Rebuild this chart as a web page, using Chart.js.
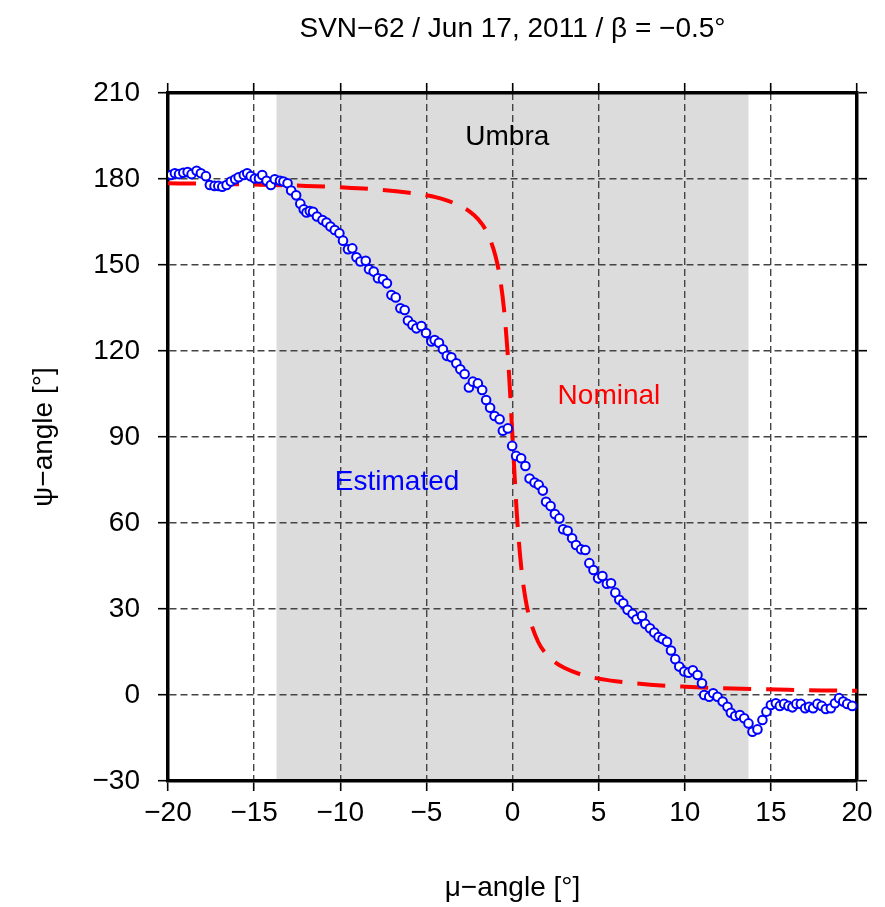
<!DOCTYPE html>
<html>
<head>
<meta charset="utf-8">
<script src="https://cdn.jsdelivr.net/npm/chart.js@4/dist/chart.umd.min.js"></script>
<style>
  html, body { margin: 0; padding: 0; background: #fff; }
  #wrap { width: 885px; height: 907px; }
</style>
</head>
<body>
<div id="wrap"><canvas id="graphique_yaw"></canvas></div>
<script>
// ESTIMATED YAW (mu, psi)
const estMu = [
  -19.83, -19.60, -19.36, -19.11, -18.86, -18.63, -18.34, -18.09, -17.80, -17.57,
  -17.30, -17.08, -16.85, -16.60, -16.35, -16.10, -15.90, -15.60, -15.40, -15.20,
  -14.96, -14.72, -14.53, -14.28, -14.03, -13.80, -13.50, -13.30, -13.06, -12.85,
  -12.56, -12.32, -12.12, -11.96, -11.77, -11.58, -11.35, -11.03, -10.80, -10.57,
  -10.32, -10.05, -9.84, -9.55, -9.30, -9.06, -8.83, -8.52, -8.33, -8.06,
  -7.81, -7.52, -7.29, -7.03, -6.78, -6.51, -6.26, -6.07, -5.81, -5.58,
  -5.29, -5.02, -4.71, -4.52, -4.27, -4.04, -3.81, -3.55, -3.26, -3.03,
  -2.78, -2.53, -2.30, -2.01, -1.76, -1.53, -1.30, -1.04, -0.75, -0.56,
  -0.27, -0.02, 0.21, 0.50, 0.75, 0.99, 1.28, 1.52, 1.76, 1.95,
  2.21, 2.46, 2.72, 2.94, 3.20, 3.46, 3.69, 3.98, 4.23, 4.46,
  4.70, 4.97, 5.22, 5.48, 5.72, 5.97, 6.20, 6.43, 6.68, 6.97,
  7.20, 7.52, 7.71, 7.98, 8.23, 8.48, 8.71, 8.97, 9.20, 9.45,
  9.68, 9.97, 10.22, 10.47, 10.74, 11.00, 11.13, 11.42, 11.65, 11.90,
  12.20, 12.48, 12.68, 12.93, 13.20, 13.45, 13.70, 13.93, 14.22, 14.51,
  14.74, 15.00, 15.29, 15.52, 15.77, 16.02, 16.25, 16.48, 16.74, 16.99,
  17.22, 17.45, 17.70, 17.95, 18.19, 18.48, 18.72, 18.96, 19.20, 19.43,
  19.72
];
const estPsi = [
  181.4, 182.0, 181.7, 182.2, 182.4, 181.7, 182.9, 182.0, 181.0, 177.9,
  177.6, 177.6, 177.3, 177.9, 179.1, 179.9, 180.6, 181.4, 182.0, 181.0,
  180.2, 180.2, 181.4, 179.4, 177.9, 179.9, 179.4, 179.1, 178.5, 176.0,
  174.3, 171.4, 169.4, 168.3, 168.8, 168.6, 166.9, 165.7, 164.8, 163.4,
  162.2, 161.1, 158.5, 155.5, 155.8, 152.7, 151.2, 151.5, 148.5, 147.7,
  145.4, 145.0, 143.6, 139.5, 138.7, 134.9, 134.3, 130.6, 129.1, 127.9,
  128.7, 126.3, 123.3, 123.8, 122.9, 120.6, 118.3, 117.8, 115.7, 113.6,
  112.0, 107.3, 109.3, 108.7, 106.4, 102.9, 100.2, 97.3, 96.2, 92.2,
  93.0, 86.9, 83.4, 82.6, 79.9, 75.5, 74.1, 73.3, 71.3, 67.4,
  65.9, 63.1, 61.6, 57.8, 57.3, 54.7, 52.3, 50.8, 50.6, 46.0,
  43.6, 40.7, 41.5, 38.8, 39.0, 35.7, 33.2, 32.0, 29.7, 28.3,
  26.4, 27.6, 24.8, 23.3, 21.8, 20.2, 19.5, 18.6, 15.5, 12.5,
  9.9, 8.2, 7.8, 8.6, 7.0, 4.1, 0.0, -0.6, 0.6, -0.6,
  -2.3, -4.1, -6.2, -7.3, -7.0, -8.1, -9.9, -12.8, -12.0, -8.7,
  -5.8, -3.5, -2.9, -3.8, -3.1, -3.8, -4.3, -3.1, -3.1, -4.6,
  -4.1, -4.6, -3.1, -3.8, -4.9, -4.6, -2.9, -1.1, -2.3, -3.1,
  -3.8
];

// NOMINAL YAW (mu, psi)
const nomMu = [
  -20, -18, -16, -14, -12, -10, -8, -6, -5, -4, -3, -2.5, -2, -1.5, -1, -0.75, -0.5, -0.25,
  0, 0.25, 0.5, 0.75, 1, 1.5, 2, 2.5, 3, 4, 5, 6, 8, 10, 12, 14, 16, 18, 20
];
const nomPsi = [
  178.5, 178.4, 178.2, 177.9, 177.6, 177.1, 176.4, 175.2, 174.3, 172.9, 170.5, 168.7, 166.0, 161.6, 153.4, 146.3, 135.0, 116.6,
  90.0, 63.4, 45.0, 33.7, 26.6, 18.4, 14.0, 11.3, 9.5, 7.1, 5.7, 4.8, 3.6, 2.9, 2.4, 2.1, 1.8, 1.6, 1.5
];

// UMBRA LIMITS
const umbraLimits = [-13.7, 13.7];

// AXES
const xTicks = [-20, -15, -10, -5, 0, 5, 10, 15, 20];
const yTicks = [-30, 0, 30, 60, 90, 120, 150, 180, 210];

// TEXT LABELS IN THE PLOT
const noteTexts = ['Umbra', 'Nominal', 'Estimated'];
const noteMu = [-0.3, 5.6, -6.7];
const notePsi = [194.6, 104.3, 74.3];
const noteColors = ['#000000', '#ff0000', '#0000ff'];

const FONT = "'Liberation Sans', Arial, Helvetica, sans-serif";
const FS = 28;

function minusLabel(v) {
  return v < 0 ? '\u2212' + Math.abs(v) : String(v);
}

function toPoints(xs, ys) {
  return xs.map((x, i) => ({ x: x, y: ys[i] }));
}

// FOND GRIS DE L'OMBRE (sous la grille)
const umbraPlugin = {
  id: 'umbra',
  beforeDraw(chart) {
    const { ctx, chartArea, scales } = chart;
    const x1 = scales.x.getPixelForValue(umbraLimits[0]);
    const x2 = scales.x.getPixelForValue(umbraLimits[1]);
    ctx.save();
    ctx.fillStyle = '#dcdcdc';
    ctx.fillRect(x1, chartArea.top, x2 - x1, chartArea.bottom - chartArea.top);
    ctx.restore();
  }
};

// TEXTES DANS LE GRAPHIQUE
const notesPlugin = {
  id: 'notes',
  afterDatasetsDraw(chart) {
    const { ctx, scales } = chart;
    ctx.save();
    ctx.font = FS + 'px ' + FONT;
    ctx.textAlign = 'center';
    ctx.textBaseline = 'middle';
    noteTexts.forEach((t, i) => {
      ctx.fillStyle = noteColors[i];
      ctx.fillText(t, scales.x.getPixelForValue(noteMu[i]), scales.y.getPixelForValue(notePsi[i]));
    });
    ctx.restore();
  }
};

const gridStyle = {
  color: '#444444',
  lineWidth: 1.4,
  tickColor: '#000000',
  tickLength: 10,
  tickWidth: 1.6
};
const borderStyle = { color: '#000000', width: 3.5, dash: [7, 4] };

new Chart(document.getElementById('graphique_yaw').getContext('2d'), {
  type: 'scatter',
  data: {
    datasets: [
      {
        label: 'Nominal',
        type: 'line',
        data: toPoints(nomMu, nomPsi),
        borderColor: '#ff0000',
        borderWidth: 4,
        borderDash: [28, 15],
        pointRadius: 0,
        cubicInterpolationMode: 'monotone',
        fill: false,
        order: 2
      },
      {
        label: 'Estimated',
        data: toPoints(estMu, estPsi),
        borderColor: '#0000ff',
        backgroundColor: '#ffffff',
        borderWidth: 2,
        pointRadius: 4.3,
        order: 1
      }
    ]
  },
  options: {
    responsive: true,
    maintainAspectRatio: false,
    animation: false,
    layout: { padding: 0 },
    plugins: {
      legend: { display: false },
      tooltip: { enabled: false },
      title: {
        display: true,
        fullSize: false,
        text: 'SVN\u221262 / Jun 17, 2011 / \u03b2 = \u22120.5\u00b0',
        color: '#000000',
        font: { family: FONT, size: FS, weight: 'normal' },
        padding: { top: 12, bottom: 37.4 }
      }
    },
    scales: {
      x: {
        type: 'linear',
        position: 'bottom',
        min: -20,
        max: 20,
        afterBuildTicks: s => { s.ticks = xTicks.map(v => ({ value: v })); },
        afterFit: s => { s.height = 126; },
        ticks: {
          color: '#000000',
          padding: 5,
          font: { family: FONT, size: FS },
          callback: minusLabel
        },
        grid: gridStyle,
        border: borderStyle,
        title: {
          display: true,
          text: '\u03bc\u2212angle [\u00b0]',
          color: '#000000',
          font: { family: FONT, size: FS },
          padding: { top: 0, bottom: 2 }
        }
      },
      x2: {
        type: 'linear',
        position: 'top',
        min: -20,
        max: 20,
        afterBuildTicks: s => { s.ticks = xTicks.map(v => ({ value: v })); },
        afterFit: s => { s.height = 10; },
        ticks: { display: false },
        grid: Object.assign({}, gridStyle, { drawOnChartArea: false }),
        border: borderStyle
      },
      y: {
        type: 'linear',
        position: 'left',
        min: -30,
        max: 210,
        afterBuildTicks: s => { s.ticks = yTicks.map(v => ({ value: v })); },
        afterFit: s => { s.width = 168; },
        ticks: {
          color: '#000000',
          padding: 18,
          font: { family: FONT, size: FS },
          callback: minusLabel
        },
        grid: gridStyle,
        border: borderStyle,
        title: {
          display: true,
          text: '\u03c8\u2212angle [\u00b0]',
          color: '#000000',
          font: { family: FONT, size: FS },
          padding: { top: 27, bottom: 0 }
        }
      },
      y2: {
        type: 'linear',
        position: 'right',
        min: -30,
        max: 210,
        afterBuildTicks: s => { s.ticks = yTicks.map(v => ({ value: v })); },
        afterFit: s => { s.width = 28; },
        ticks: { display: false },
        grid: Object.assign({}, gridStyle, { drawOnChartArea: false }),
        border: borderStyle
      }
    }
  },
  plugins: [umbraPlugin, notesPlugin]
});
</script>
</body>
</html>
